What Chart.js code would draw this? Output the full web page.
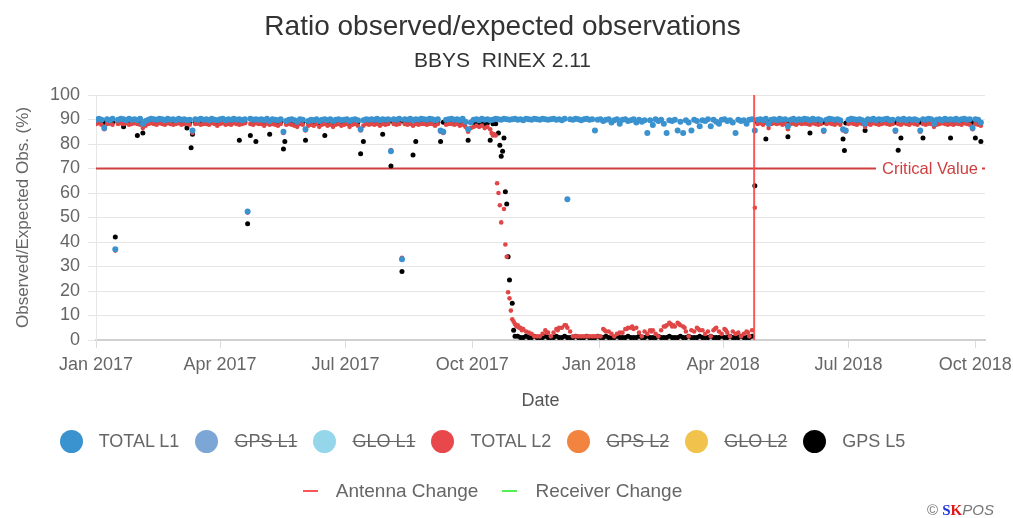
<!DOCTYPE html>
<html>
<head>
<meta charset="utf-8">
<script src="https://cdn.jsdelivr.net/npm/chart.js@4.4.1/dist/chart.umd.min.js"></script>
<style>
  body { margin: 0; background: #fff; }
  #wrap { position: relative; width: 1013px; height: 518px; font-family: "Liberation Sans", Arial, sans-serif; }
  .lrow { position: absolute; left: 0; width: 965px; display: flex; justify-content: center; align-items: center; color: #666; font-size: 18px; }
  .item { display: flex; align-items: center; margin: 0 8px; }
  .dot { width: 23px; height: 23px; border-radius: 50%; margin-right: 16px; }
  .dash { width: 15px; height: 2px; margin-right: 18px; }
  .off { text-decoration: line-through; }
  #credit { position: absolute; left: 927px; top: 501px; font-size: 15px; color: #777; }
</style>
</head>
<body>
<div id="wrap">
  <canvas id="chart" width="1013" height="518"></canvas>
  <div id="legendSeries" class="lrow" style="top:428px;height:26px"></div>
  <div id="legendEvents" class="lrow" style="top:479px;height:24px;width:985px;font-size:19px"></div>
  <div id="credit">&copy; <b style="color:#2233dd;font-family:'Liberation Serif'">S</b><b style="color:#e01818;font-family:'Liberation Serif'">K</b><i>POS</i></div>
</div>
<script>
// x = days since 1 Jan 2017, one band value every 2 days
const bandStartDay = 0;
const bandStepDays = 2;

const quarterDays = [0, 90, 181, 273, 365, 455, 546, 638];
const quarterLabels = ["Jan 2017", "Apr 2017", "Jul 2017", "Oct 2017", "Jan 2018", "Apr 2018", "Jul 2018", "Oct 2018"];

const totalL1 = [
  89.9, 90.3, 89.9, 86.5, 90.1, 89.7, 90.3, 37, 89.9, 90.3,
  90.1, 89.7, 90.3, 89.9, 90.1, 89.7, 90.3, 88.3, 89.4, 89.9,
  90.3, 90.1, 89.9, 90.3, 90.1, 89.7, 90.3, 89.9, 90.1, 89.7,
  90.3, 89.9, 90.1, 89.7, 89.9, 85.5, 90.1, 89.9, 90.3, 89.9,
  90.1, 89.7, 90.3, 89.9, 89.7, 90.1, 90.3, 89.7, 90.1, 89.9,
  90.3, 89.9, 90.1, 89.7, 90.1, 52.5, 90.3, 89.9, 90.1, 89.9,
  90.1, 89.7, 90.3, 89.4, 90.1, 89.9, 89.7, 90.1, 85, 89.4,
  89.9, 90.1, 89.7, 89.1, 90.1, 89.9, 86, 89.4, 89.9, 89.7,
  90.1, 89.4, 89.9, 90.1, 89.7, 90.1, 89.4, 89.9, 90.1, 89.7,
  89.9, 90.1, 89.4, 89.9, 90.1, 89.7, 86, 89.7, 90.1, 89.9,
  90.1, 89.9, 90.3, 89.7, 90.1, 89.9, 90.1, 77, 90.1, 89.9,
  90.3, 33, 90.1, 89.9, 90.3, 89.7, 90.1, 89.9, 90.3, 90.1,
  89.9, 90.3, 90.1, 89.7, 90.1, 85.5, 85, 89.9, 90.1, 90.3,
  89.9, 90.1, 89.7, 90.3, 89.1, 86, 88.8, 89.9, 90.1, 89.7,
  90.3, 89.9, 90.1, 89.7, 89.9, 90.3, 90.1, 89.9, 90.3, 90.1,
  89.9, 90.1, 90.3, 89.9, 90.1, 89.7, 90.3, 90.1, 89.9, 90.3,
  90.1, 89.9, 90.3, 90.1, 89.9, 90.1, 90.3, 89.9, 90.1, 89.7,
  90.3, 57.5, 90.1, 89.9, 90.3, 90.1, 89.7, 90.1, 90.3, 89.9,
  90.1, 85.5, 89.9, 90.1, 89.4, 89.9, 90.1, 88.8, 89.7, 90.1,
  88.3, 89.9, 90.1, 89.4, 89.7, 90.1, 88.8, 89.9, 89.1, 89.7,
  84.5, 89.7, 87.8, 90.1, 89.4, 89.9, 88.3, 84.5, 89.7, 89.4,
  89.9, 85.5, 89.1, 84.5, 89.7, 88.8, 85.5, 89.9, 89.4, 87.2,
  89.7, 89.4, 90.1, 87.2, 89.9, 89.1, 88.3, 89.9, 90.1, 89.4,
  89.7, 88.8, 84.5, 89.9, 89.4, 89.7, 88.3, 89.9, 90.1, 85.5,
  89.9, 90.1, 89.7, 90.3, 88.3, 89.9, 90.1, 89.7, 90.3, 89.9,
  90.1, 87.2, 89.9, 90.3, 89.7, 90.1, 89.9, 90.3, 90.1, 89.7,
  90.3, 89.9, 90.1, 89.7, 85.5, 89.9, 90.3, 90.1, 89.9, 90.1,
  89.7, 86, 85.5, 89.9, 90.3, 90.1, 89.9, 90.1, 89.7, 88.3,
  90.1, 89.9, 90.3, 89.7, 90.1, 89.9, 90.1, 90.3, 89.7, 89.9,
  85.5, 90.1, 89.9, 90.3, 89.7, 90.1, 89.9, 90.1, 89.7, 85.5,
  90.1, 89.9, 90.3, 90.1, 88.3, 89.9, 90.1, 89.7, 90.3, 89.9,
  90.1, 89.9, 90.3, 89.7, 90.1, 90.3, 89.9, 90.1, 86.5, 90.1, 89.9, 88.8
];

const totalL2 = [
  88.2, 88.5, 87.9, 86, 88.2, 88.5, 87.9, 36.5, 88.2, 88.5,
  88.2, 88.5, 87.9, 88.2, 88.5, 88.2, 87.9, 86.5, 87.5, 88.2,
  88.5, 88.2, 87.9, 88.5, 88.2, 87.9, 88.5, 88.2, 87.9, 88.2,
  88.5, 87.9, 88.2, 88.5, 87.9, 84.5, 88.2, 88.5, 87.9, 88.2,
  88.2, 87.9, 88.5, 88.2, 87.5, 88.2, 88.5, 87.9, 88.2, 87.9,
  88.5, 88.2, 87.9, 88.2, 88.5, 52, 88.2, 87.9, 88.5, 88.2,
  88.2, 87.5, 88.5, 87.9, 88.2, 87.9, 87.5, 88.2, 84.5, 87.9,
  88.2, 87.9, 87.5, 87, 88.2, 87.9, 85.5, 87.5, 87.9, 87.5,
  88.2, 87, 87.9, 88.2, 87.5, 87.9, 87, 87.9, 88.2, 87.5,
  87.9, 88.2, 87, 87.9, 88.2, 87.5, 85.5, 87.5, 88.2, 87.9,
  88.2, 87.9, 88.2, 87.5, 88.2, 87.9, 88.2, 77.5, 88.2, 87.9,
  88.2, 33.5, 88.2, 87.9, 88.2, 87.5, 88.2, 87.9, 88.2, 88.2,
  87.9, 88.2, 88.2, 87.5, 88.2, 85, 84.5, 87.9, 88.2, 88.2,
  87.9, 88.2, 87.5, 87.9, 87, 85, 86.5, 87, 87.5, 87,
  87.5, 86.5, 87, 86, 83.5, 83.5,
  60, 48, 53.5, 34, 17, 8.5, 6.5, 6, 5, 4.5,
  3.5, 3, 2.5, 1.5, 1.5, 1.5, 2.5, 4, 3, 1.5, 3, 4.5, 5, 5, 6, 5, 3.5, 1.5,
  1.5, 1.5, 1.5, 1.5, 1.5, 1.5, 1.5, 1.5, 1.5,
  1.5, 4.5, 3.5, 3.5, 2.5, 1.5, 2.5, 3, 3, 4.5,
  5, 5, 4.5, 5, 3, 1.5, 3.5, 2.5, 4, 4,
  2.5, 1.5, 4, 5.5, 6, 7, 5.5, 5.5, 7, 6,
  5.5, 3.5, 1.5, 4, 3.5, 5, 4, 4, 2.5, 3.5,
  1.5, 4, 5, 3.5, 2.5, 4.5, 3, 1.5, 3.5, 2.5,
  3, 1.5, 2.5, 3.5, 1.5, 4,
  54,
  88.2, 88.5, 87.9, 88.7, 86.5, 88.2, 88.5, 88.2, 88.5, 87.9,
  88.2, 86, 88.2, 88.5, 87.9, 88.5, 88.2, 88.5, 88.2, 87.9,
  88.5, 88.2, 87.9, 88.2, 85, 88.2, 88.5, 88.2, 87.9, 88.5,
  87.9, 85.5, 85, 88.2, 88.5, 88.2, 87.9, 88.5, 88.2, 87,
  88.2, 87.9, 88.5, 88.2, 87.9, 88.2, 88.5, 88.2, 87.9, 88.2,
  85, 88.2, 87.9, 88.5, 88.2, 87.9, 88.5, 88.2, 87.9, 85,
  88.2, 87.9, 88.5, 88.2, 87, 87.9, 88.2, 88.5, 88.2, 87.9,
  88.2, 87.9, 88.5, 88.2, 87.9, 88.5, 88.2, 87.9, 86, 88.2, 87.9, 87.5
];

const gpsL5 = [
  88.9, 89.1, 88.6, 88.9, 88.9, 88.6, 88.9, 42, 88.9, 89.1,
  87, 88.9, 88.6, 88.9, 89.1, 83.5, 88.9, 84.5, 88.9, 88.6,
  88.9, 89.1, 88.6, 88.9, 88.9, 88.6, 89.1, 88.9, 88.6, 88.9,
  88.9, 89.1, 88.6, 86.5, 88.9, 84, 88.9, 88.6, 88.9, 89.1,
  88.9, 88.6, 88.9, 89.1, 88.6, 88.9, 88.9, 88.6, 88.9, 89.1,
  88.9, 88.6, 81.5, 88.9, 88.9, 47.5, 83.5, 88.9, 81, 88.6,
  88.9, 89.1, 88.6, 84, 88.9, 88.6, 88.9, 89.1, 78, 88.9,
  88.9, 88.6, 88.9, 88.9, 88.6, 88.9, 81.5, 88.9, 88.6, 88.9,
  88.9, 88.6, 88.9, 83.5, 88.9, 88.6, 88.9, 89.1, 88.6, 88.9,
  88.9, 88.6, 88.9, 89.1, 88.6, 88.9, 76, 81, 88.9, 88.6,
  88.9, 88.6, 88.9, 88.9, 84, 88.6, 88.9, 71, 88.9, 88.6,
  88.9, 28, 88.9, 88.6, 88.9, 75.5, 81, 88.9, 88.6, 88.9,
  88.6, 88.9, 88.9, 88.6, 88.9, 81, 88.9, 88.6, 88.9, 88.9,
  88.6, 88.9, 88.9, 88.6, 88.9, 81.5, 88.9, 88.6, 88.9, 88.3,
  88.6, 88.3, 88.6, 81.5, 88.3, 88.3,
  84.5, 75, 82.5, 55.5, 24.5, 15, 1.5,
  1.5, 1, 1, 1.5, 1, 1, 1.5, 1, 1, 1,
  1.5, 1, 1, 1, 1.5, 1, 1, 1.5, 1, 1,
  1, 1.5, 1, 1, 1, 1.5, 1, 1, 1, 1.5,
  1, 1, 1.5, 1, 1, 1, 1.5, 1, 1, 1,
  1.5, 1, 1, 1, 1.5, 1, 1, 1.5, 1, 1,
  1, 1.5, 1, 1, 1, 1.5, 1, 1, 1, 1.5,
  1, 1, 1.5, 1, 1, 1, 1.5, 1, 1, 1,
  1.5, 1, 1, 1, 1.5, 1, 1, 1.5, 1, 1,
  1, 1.5, 1, 1, 1, 1.5,
  63,
  88.9, 89.1, 88.6, 82, 88.9, 89.1, 88.9, 88.6, 88.9, 89.1,
  88.9, 83, 88.9, 88.6, 88.9, 89.1, 88.9, 88.6, 88.9, 84.5,
  88.9, 89.1, 88.6, 88.9, 88.9, 88.6, 89.1, 88.9, 88.6, 88.9,
  89.1, 82, 88.6, 88.9, 89.1, 88.9, 88.6, 88.9, 89.1, 85.5,
  88.9, 88.6, 88.9, 89.1, 88.9, 88.6, 88.9, 89.1, 88.9, 88.6,
  88.9, 77.5, 82.5, 88.9, 88.6, 88.9, 89.1, 88.9, 88.6, 88.9,
  82.5, 88.9, 88.6, 88.9, 89.1, 88.9, 88.6, 88.9, 89.1, 88.9,
  82.5, 88.9, 88.6, 88.9, 89.1, 88.9, 88.6, 88.9, 88.9, 82.5, 88.9, 81
];

// odd-day points that fall between the band samples: [day, value]
const totalL1Extra = [];
const totalL2Extra = [[287, 84.5], [289, 84], [291, 64], [293, 55], [297, 39], [299, 19.5], [301, 12], [303, 7.5],
  [305, 5.5], [307, 5], [309, 4], [327, 3], [335, 4], [341, 6], [369, 4], [385, 4.5], [389, 5.5], [403, 3.5],
  [413, 5.5], [417, 6.5], [419, 6], [423, 6.5], [427, 5], [437, 4.5], [449, 4.5], [457, 4], [473, 3]];
const gpsL5Extra = [[69, 78.5], [137, 81], [293, 79.5], [295, 77], [297, 60.5], [299, 34], [303, 4], [543, 77.3]];

const seriesNames = ["TOTAL L1", "GPS L1", "GLO L1", "TOTAL L2", "GPS L2", "GLO L2", "GPS L5"];
const seriesColors = ["#3a92cf", "#7ba6d6", "#95d6ea", "#e8484c", "#f2843f", "#f1c34d", "#000000"];
const seriesShown = [true, false, false, true, false, false, true];
const seriesValues = [totalL1, [], [], totalL2, [], [], gpsL5];
const seriesExtra = [totalL1Extra, [], [], totalL2Extra, [], [], gpsL5Extra];
const seriesRadius = [3, 2.5, 2.5, 2.3, 2.5, 2.5, 2.5];
const seriesOrder = [1, 2, 2, 2, 3, 3, 3];

const criticalValue = 70;
const antennaChangeDay = 477.5;
const eventNames = ["Antenna Change", "Receiver Change"];
const eventColors = ["#ff5555", "#55ee55"];

const xMin = 0, xMax = 645;

function toPoints(values, extra) {
  const pts = values.map((v, i) => ({ x: bandStartDay + i * bandStepDays, y: v }));
  extra.forEach(([d, v]) => pts.push({ x: d, y: v }));
  return pts;
}

const datasets = seriesNames.map((name, i) => ({
  label: name,
  data: toPoints(seriesValues[i], seriesExtra[i]),
  hidden: !seriesShown[i],
  backgroundColor: i === 3 ? "#e04646" : seriesColors[i],
  borderWidth: 0,
  pointRadius: seriesRadius[i],
  order: seriesOrder[i]
}));

datasets.push({
  type: "line",
  label: "Critical Value",
  data: [{ x: xMin, y: criticalValue }, { x: xMax, y: criticalValue }],
  borderColor: "#cf3f3f",
  borderWidth: 2,
  pointRadius: 0,
  order: 5
});
datasets.push({
  type: "line",
  label: eventNames[0],
  data: [{ x: antennaChangeDay, y: 0 }, { x: antennaChangeDay, y: 100 }],
  borderColor: "rgba(255,70,70,0.9)",
  borderWidth: 2,
  pointRadius: 0,
  order: 0
});

const criticalLabel = {
  id: "criticalLabel",
  afterDatasetsDraw(chart) {
    const { ctx, chartArea, scales } = chart;
    const py = scales.y.getPixelForValue(criticalValue);
    const text = "Critical Value";
    ctx.save();
    ctx.font = '16.5px "Liberation Sans", Arial, sans-serif';
    const w = ctx.measureText(text).width;
    const xr = chartArea.right - 7;
    ctx.fillStyle = "#fff";
    ctx.fillRect(xr - w - 6, py - 10, w + 10, 20);
    ctx.fillStyle = "#cf3f3f";
    ctx.textAlign = "right";
    ctx.textBaseline = "middle";
    ctx.fillText(text, xr, py + 1);
    ctx.restore();
  }
};

Chart.defaults.font.family = '"Liberation Sans", Arial, sans-serif';

const chart = new Chart(document.getElementById("chart"), {
  type: "scatter",
  data: { datasets },
  options: {
    responsive: false,
    animation: false,
    events: [],
    layout: { padding: { left: 0, right: 8, top: 0, bottom: 100 } },
    plugins: {
      legend: { display: false },
      tooltip: { enabled: false },
      title: {
        display: true,
        text: "Ratio observed/expected observations",
        color: "#333",
        font: { size: 28, weight: "normal" },
        padding: { top: 10, bottom: 5.4 }
      },
      subtitle: {
        display: true,
        text: "BBYS  RINEX 2.11",
        color: "#333",
        font: { size: 21 },
        padding: { top: 0, bottom: 20.8 }
      }
    },
    scales: {
      x: {
        type: "linear",
        min: xMin,
        max: xMax,
        afterBuildTicks: s => { s.ticks = quarterDays.map(v => ({ value: v })); },
        afterFit: s => { s.height = 78; s.paddingLeft = 0; s.paddingRight = 0; },
        ticks: {
          autoSkip: false,
          maxRotation: 0,
          padding: 6,
          color: "#666",
          font: { size: 18 },
          callback: (v, i) => quarterLabels[i]
        },
        grid: { drawOnChartArea: false, drawTicks: true, tickLength: 8, color: "#dcdcdc" },
        border: { color: "#d0d0d0", width: 2 },
        title: { display: true, text: "Date", color: "#555", font: { size: 18 }, padding: { top: 0, bottom: 6 } }
      },
      y: {
        min: 0,
        max: 100,
        afterFit: s => { s.width = 96; s.paddingTop = 0; s.paddingBottom = 0; },
        ticks: { stepSize: 10, autoSkip: false, padding: 8, color: "#666", font: { size: 18 } },
        grid: { color: "#e6e6e6", tickLength: 8 },
        border: { color: "#e6e6e6" },
        title: {
          display: true,
          text: "Observed/Expected Obs. (%)",
          color: "#666",
          font: { size: 17 },
          padding: { top: 13, bottom: 0 }
        }
      },
      // empty right gutter so the titles centre on the whole page
      gutter: {
        position: "right",
        display: true,
        ticks: { display: false },
        grid: { display: false },
        border: { display: false },
        afterFit: s => { s.width = 20; s.paddingTop = 0; s.paddingBottom = 0; }
      }
    }
  },
  plugins: [criticalLabel]
});

// html legend, same look as the original page
const seriesRow = document.getElementById("legendSeries");
seriesNames.forEach((name, i) => {
  const item = document.createElement("div");
  item.className = "item";
  item.innerHTML = '<span class="dot" style="background:' + seriesColors[i] + '"></span>' +
    '<span class="' + (chart.isDatasetVisible(i) ? "" : "off") + '">' + name + "</span>";
  seriesRow.appendChild(item);
});
const eventRow = document.getElementById("legendEvents");
eventNames.forEach((name, i) => {
  const item = document.createElement("div");
  item.className = "item";
  item.style.margin = "0 12px";
  item.innerHTML = '<span class="dash" style="background:' + eventColors[i] + '"></span><span>' + name + "</span>";
  eventRow.appendChild(item);
});
</script>
</body>
</html>
